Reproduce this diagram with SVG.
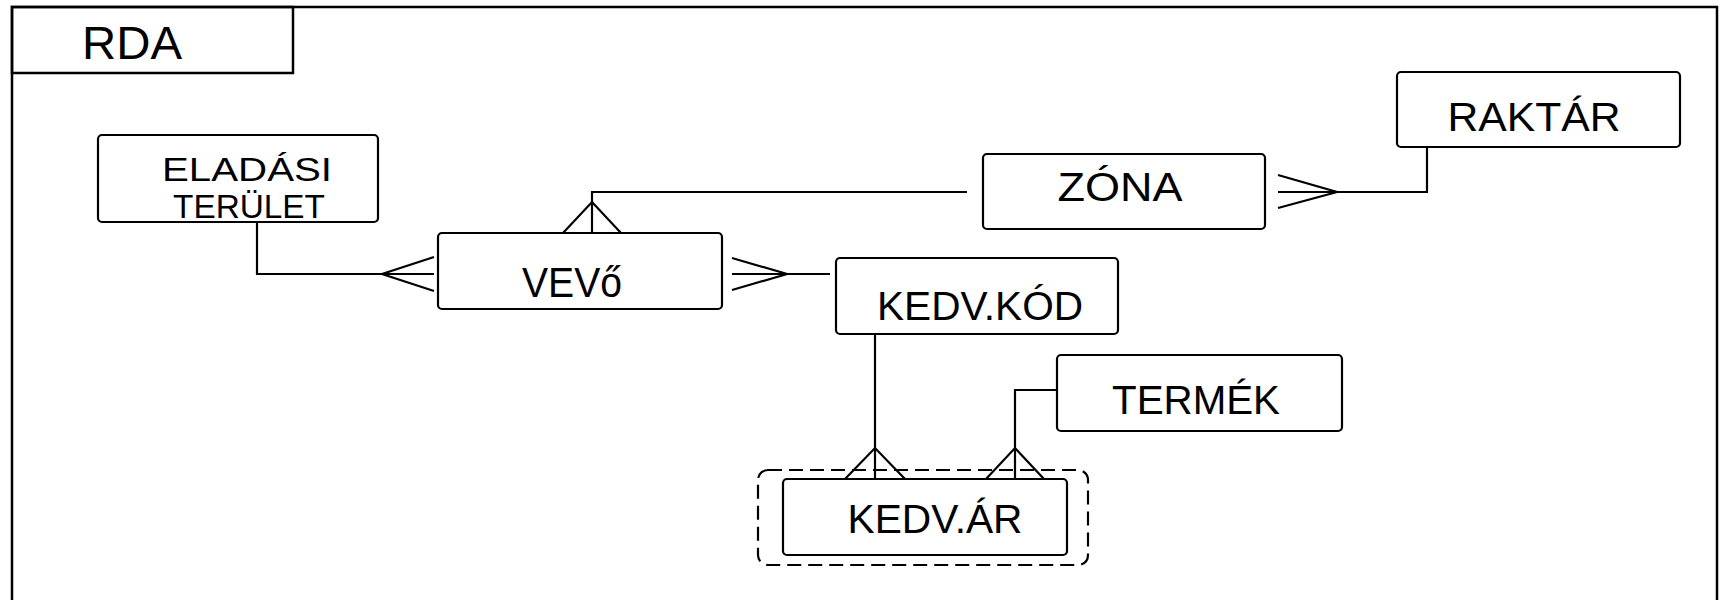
<svg xmlns="http://www.w3.org/2000/svg" width="1725" height="600" viewBox="0 0 1725 600">
<style>
.box{fill:#fff;stroke:#000;stroke-width:2.2}
.frame{fill:none;stroke:#000;stroke-width:2.5}
.ln{fill:none;stroke:#000;stroke-width:2.2;stroke-linejoin:miter}
.dash{fill:none;stroke:#000;stroke-width:2.2;stroke-dasharray:14 7}
text{font-family:"Liberation Sans","DejaVu Sans",sans-serif;font-size:40px;fill:#000;text-anchor:middle}
</style>
<rect width="1725" height="600" fill="#fff"/>
<g id="frame">
<rect class="frame" x="12" y="7" width="1705" height="640"/>
<rect class="frame" x="12" y="7" width="281" height="66"/>
<text x="132" y="59" style="font-size:46px" textLength="100" lengthAdjust="spacingAndGlyphs">RDA</text>
</g>
<g id="connectors">
<path class="ln" d="M257,222 V274 H434 M434,257 L382,274 L434,291"/>
<path class="ln" d="M967,192 H592 V233 M563,233 L592,202 L621,233"/>
<path class="ln" d="M732,274 H830 M732,258 L787,274 L732,290"/>
<path class="ln" d="M1278,192 H1427 V147 M1278,175 L1337,192 L1278,208"/>
<path class="ln" d="M875,334 V479 M845,479 L875,448 L905,479"/>
<path class="ln" d="M1057,390 H1015 V479 M986,479 L1015,448 L1044,479"/>
</g>
<g id="eladasi-terulet">
<rect class="box" x="98" y="135" width="280" height="87" rx="4"/>
<text x="247" y="181" style="font-size:34px" textLength="170" lengthAdjust="spacingAndGlyphs">ELADÁSI</text>
<text x="249" y="218" style="font-size:34px" textLength="152" lengthAdjust="spacingAndGlyphs">TERÜLET</text>
</g>
<g id="vevo">
<rect class="box" x="438" y="233" width="284" height="76" rx="4"/>
<text x="572" y="297" style="font-size:42px" textLength="100" lengthAdjust="spacingAndGlyphs">VEVő</text>
</g>
<g id="zona">
<rect class="box" x="983" y="154" width="282" height="75" rx="4"/>
<text x="1120" y="201" textLength="125" lengthAdjust="spacingAndGlyphs">ZÓNA</text>
</g>
<g id="raktar">
<rect class="box" x="1397" y="72" width="283" height="75" rx="4"/>
<text x="1534" y="131" textLength="173" lengthAdjust="spacingAndGlyphs">RAKTÁR</text>
</g>
<g id="kedv-kod">
<rect class="box" x="836" y="258" width="282" height="76" rx="4"/>
<text x="980" y="320" textLength="206" lengthAdjust="spacingAndGlyphs">KEDV.KÓD</text>
</g>
<g id="termek">
<rect class="box" x="1057" y="355" width="285" height="76" rx="4"/>
<text x="1196" y="414" textLength="168" lengthAdjust="spacingAndGlyphs">TERMÉK</text>
</g>
<g id="kedv-ar">
<rect class="dash" x="758" y="470" width="330" height="95" rx="10"/>
<rect class="box" x="783" y="479" width="284" height="76" rx="4"/>
<text x="935" y="533" textLength="175" lengthAdjust="spacingAndGlyphs">KEDV.ÁR</text>
</g>
</svg>
